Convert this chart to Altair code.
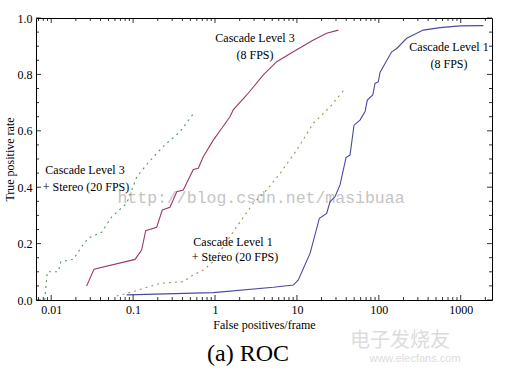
import altair as alt
import pandas as pd

# ---- data ----
# Cascade Level 1 (8 FPS) - blue solid
c1_x = [0.0836, 0.953, 5.15, 9.04, 10.4, 14.5, 18.8, 23.1, 25.4, 29.2, 33.6, 39.8, 44.5, 49.8,
        58.9, 67.9, 72.4, 84.3, 89.9, 98.6, 103.5, 122.5, 143.8, 165.5, 219, 349, 559, 980, 1888]
c1_y = [0.018, 0.026, 0.045, 0.053, 0.071, 0.166, 0.290, 0.307, 0.349, 0.366, 0.408, 0.505, 0.514,
        0.620, 0.638, 0.668, 0.709, 0.727, 0.768, 0.774, 0.807, 0.845, 0.880, 0.892, 0.928, 0.957,
        0.966, 0.972, 0.973]

# Cascade Level 3 (8 FPS) - magenta solid
c3_x = [0.0271, 0.0333, 0.1055, 0.127, 0.1425, 0.194, 0.227, 0.282, 0.341, 0.410, 0.543, 0.625,
        0.719, 0.953, 1.21, 1.52, 1.67, 2.44, 3.89, 5.66, 9.04, 15.9, 23.1, 32.0]
c3_y = [0.050, 0.109, 0.144, 0.177, 0.246, 0.258, 0.319, 0.329, 0.384, 0.390, 0.463, 0.467,
        0.508, 0.567, 0.609, 0.650, 0.674, 0.727, 0.798, 0.845, 0.880, 0.922, 0.946, 0.957]

# Cascade Level 3 + Stereo (20 FPS) - green dotted
c3s_x = [0.00833, 0.00896, 0.0122, 0.0131, 0.0186, 0.0236, 0.0284, 0.0414, 0.0548, 0.0836,
         0.111, 0.152, 0.232, 0.374, 0.543]
c3s_y = [0.0, 0.10, 0.10, 0.136, 0.144, 0.19, 0.22, 0.24, 0.295, 0.343, 0.437, 0.486, 0.544,
         0.597, 0.66]

# Cascade Level 1 + Stereo (20 FPS) - olive dotted
c1s_x = [0.0631, 0.1005, 0.213, 0.410, 0.543, 0.719, 0.953, 1.26, 1.84, 2.94, 4.28, 6.22, 9.95,
         15.9, 25.4, 36.9]
c1s_y = [0.014, 0.030, 0.059, 0.065, 0.089, 0.106, 0.136, 0.189, 0.26, 0.343, 0.39, 0.449, 0.532,
         0.627, 0.685, 0.742]

x_ticks = [0.01, 0.1, 1, 10, 100, 1000]
y_ticks = [0.0, 0.2, 0.4, 0.6, 0.8, 1.0]
x_minor = [k * 10.0 ** d for d in range(-3, 4) for k in range(2, 10) if 0.0066 < k * 10.0 ** d < 2400]
y_minor = [0.05, 0.1, 0.15, 0.25, 0.3, 0.35, 0.45, 0.5, 0.55, 0.65, 0.7, 0.75, 0.85, 0.9, 0.95]

W, H = 456, 282
FONT = "Liberation Serif"

xscale = alt.Scale(type="log", domain=[0.00652, 2410], nice=False)
yscale = alt.Scale(domain=[0, 1], nice=False)


def line(xs, ys, color, dash=None):
    df = pd.DataFrame({"fpf": xs, "tpr": ys, "i": range(len(xs))})
    kw = dict(color=color, strokeWidth=1.1, clip=True)
    if dash:
        kw["strokeDash"] = dash
    return alt.Chart(df).mark_line(**kw).encode(
        x=alt.X("fpf:Q", scale=xscale),
        y=alt.Y("tpr:Q", scale=yscale),
        order="i:Q",
    )


base_x = alt.Chart(pd.DataFrame({"v": x_ticks})).mark_point(opacity=0).encode(
    x=alt.X("v:Q", scale=xscale,
            axis=alt.Axis(values=x_ticks, ticks=False, domain=False, grid=False,
                          labelExpr="datum.value < 1 ? toString(datum.value) : format(datum.value, 'd')",
                          labelFont=FONT, labelFontSize=12, labelColor="black", labelPadding=4,
                          title="False positives/frame", titleFont=FONT, titleFontSize=12,
                          titleFontWeight="normal", titleColor="black", titlePadding=4)),
    y=alt.Y("v:Q", scale=yscale,
            axis=alt.Axis(values=y_ticks, ticks=False, domain=False, grid=False, format=".1f",
                          labelFont=FONT, labelFontSize=12, labelColor="black", labelPadding=4,
                          title="True positive rate", titleFont=FONT, titleFontSize=12,
                          titleFontWeight="normal", titleColor="black", titlePadding=1)),
)


def xtick_layer(vals, length):
    d = pd.DataFrame({"v": vals})
    bottom = alt.Chart(d).mark_rule(color="black", strokeWidth=0.8).encode(
        x=alt.X("v:Q", scale=xscale), y=alt.value(H), y2=alt.value(H - length))
    top = alt.Chart(d).mark_rule(color="black", strokeWidth=0.8).encode(
        x=alt.X("v:Q", scale=xscale), y=alt.value(0), y2=alt.value(length))
    return bottom + top


def ytick_layer(vals, length):
    d = pd.DataFrame({"v": vals})
    left = alt.Chart(d).mark_rule(color="black", strokeWidth=0.8).encode(
        y=alt.Y("v:Q", scale=yscale), x=alt.value(0), x2=alt.value(length))
    right = alt.Chart(d).mark_rule(color="black", strokeWidth=0.8).encode(
        y=alt.Y("v:Q", scale=yscale), x=alt.value(W), x2=alt.value(W - length))
    return left + right


def label(text, px, py, size=12, color="black", font=FONT, **kw):
    return alt.Chart(pd.DataFrame({"t": [text]})).mark_text(
        font=font, fontSize=size, color=color, align="center", baseline="middle", **kw
    ).encode(text="t:N", x=alt.value(px - 36), y=alt.value(py - 18))


layers = [
    base_x,
    label("http://blog.csdn.net/masibuaa", 261, 198, size=16.5, color="#c4c4c4", font="Liberation Mono"),
    label("电子发烧友", 400, 341, size=20, color="#dcdcdc", font="Noto Sans CJK SC"),
    label("www.elecfans.com", 415, 359, size=11, color="#dcdcdc", font="Liberation Sans"),
    line(c3s_x, c3s_y, "#4f9a62", [2, 4]),
    line(c1s_x, c1s_y, "#a8904e", [2, 4]),
    line(c3_x, c3_y, "#983a6c"),
    line(c1_x, c1_y, "#4a4aa0"),
    xtick_layer(x_ticks, 5), xtick_layer(x_minor, 3),
    ytick_layer(y_ticks, 5), ytick_layer(y_minor, 3),
    label("Cascade Level 3", 255, 38),
    label("(8 FPS)", 255, 55),
    label("Cascade Level 1", 449, 47),
    label("(8 FPS)", 449, 64),
    label("Cascade Level 3", 85, 170),
    label("+ Stereo (20 FPS)", 86, 187),
    label("Cascade Level 1", 233, 242),
    label("+ Stereo (20 FPS)", 235, 257),
    label("(a) ROC", 248, 354, size=24),
]

chart = alt.layer(*layers).properties(
    width=W, height=H,
    padding={"left": 36, "top": 18, "right": 13, "bottom": 75},
    autosize=alt.AutoSizeParams(type="none"),
    background="white",
).configure_view(stroke="black", strokeWidth=1)

chart.save("out.html", embed_options={"renderer": "svg", "actions": False})
